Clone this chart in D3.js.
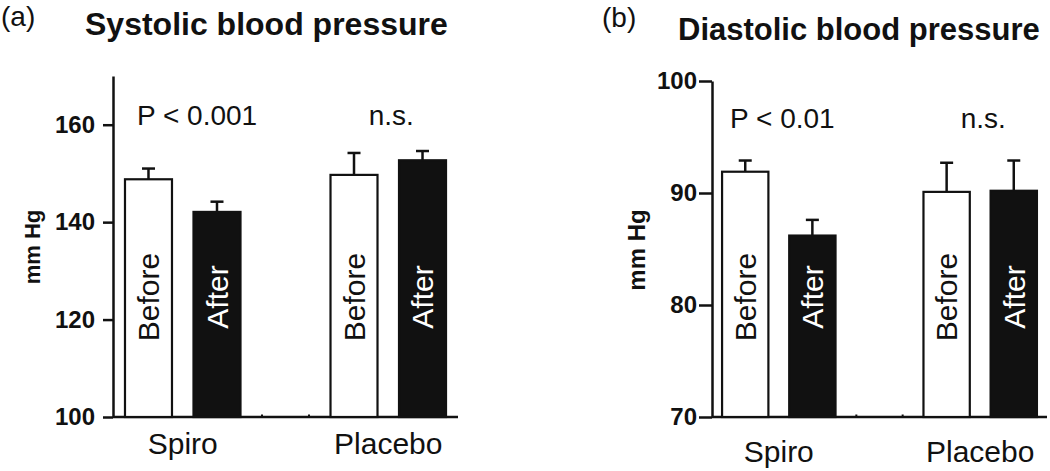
<!DOCTYPE html>
<html>
<head>
<meta charset="utf-8">
<script src="https://cdn.jsdelivr.net/npm/d3@7"></script>
<style>
  html, body { margin: 0; padding: 0; background: #fff; }
  svg { display: block; font-family: "Liberation Sans", Arial, sans-serif; }
</style>
</head>
<body>
<svg id="chart" width="1050" height="471"></svg>
<script>
// ---- Data ----
const groups = ["Spiro", "Placebo"];
const conditions = ["Before", "After"];
const slots = ["Spiro|Before", "Spiro|After", "gap", "Placebo|Before", "Placebo|After"];

const sysMeans = [148.8, 142.1, 149.7, 152.7];
const sysSE    = [2.2, 2.1, 4.5, 1.9];
const diaMeans = [91.9, 86.2, 90.1, 90.2];
const diaSE    = [1.0, 1.4, 2.6, 2.7];

const sysTicks = [100, 120, 140, 160];
const diaTicks = [70, 80, 90, 100];

const sysPLabels = ["P < 0.001", "n.s."];
const diaPLabels = ["P < 0.01", "n.s."];

const panelLetters = ["(a)", "(b)"];
const panelTitles = ["Systolic blood pressure", "Diastolic blood pressure"];
const yLabel = "mm Hg";

// ---- Drawing ----
const svg = d3.select("#chart");

function buildRows(means, se) {
  const rows = [];
  let k = 0;
  groups.forEach(g => conditions.forEach(c => {
    rows.push({ slot: g + "|" + c, group: g, cond: c, mean: means[k], se: se[k] });
    k++;
  }));
  return rows;
}

function drawPanel(cfg) {
  const g = svg.append("g");
  const y = d3.scaleLinear().domain(cfg.domain).range([cfg.bottom, cfg.top]);
  const x = d3.scaleBand().domain(slots).range([cfg.left, cfg.right])
    .paddingInner(cfg.padIn).paddingOuter(cfg.padOut);
  const rows = buildRows(cfg.means, cfg.se);

  // y axis
  const yAxis = d3.axisLeft(y).tickValues(cfg.ticks).tickSize(cfg.tickLen)
    .tickPadding(cfg.tickPad).tickSizeOuter(0);
  const ya = g.append("g").attr("transform", `translate(${cfg.left},0)`).call(yAxis);
  ya.select(".domain").attr("stroke", "#111").attr("stroke-width", 2.5);
  ya.selectAll(".tick line").attr("stroke", "#111").attr("stroke-width", 2.5);
  ya.selectAll(".tick text").attr("fill", "#111").attr("font-size", 24)
    .attr("font-weight", "bold").attr("font-family", "Liberation Sans, Arial, sans-serif");

  // x axis baseline
  g.append("line")
    .attr("x1", cfg.left).attr("x2", cfg.right)
    .attr("y1", y(cfg.domain[0])).attr("y2", y(cfg.domain[0]))
    .attr("stroke", "#111").attr("stroke-width", 2.5);

  // empty slot remnants (zero-height bar corners)
  [x("gap"), x("gap") + x.bandwidth()].forEach(px => {
    g.append("line").attr("x1", px).attr("x2", px)
      .attr("y1", y(cfg.domain[0]) - 2.5).attr("y2", y(cfg.domain[0]))
      .attr("stroke", "#111").attr("stroke-width", 2);
  });

  // error bars (upper only)
  const cap = 13;
  rows.forEach(d => {
    const cx = x(d.slot) + x.bandwidth() / 2;
    g.append("line").attr("x1", cx).attr("x2", cx)
      .attr("y1", y(d.mean)).attr("y2", y(d.mean + d.se))
      .attr("stroke", "#111").attr("stroke-width", 2.5);
    g.append("line").attr("x1", cx - cap / 2).attr("x2", cx + cap / 2)
      .attr("y1", y(d.mean + d.se)).attr("y2", y(d.mean + d.se))
      .attr("stroke", "#111").attr("stroke-width", 2.5);
  });

  // bars
  g.selectAll("rect.bar").data(rows).enter().append("rect")
    .attr("class", "bar")
    .attr("x", d => x(d.slot))
    .attr("width", x.bandwidth())
    .attr("y", d => y(d.mean))
    .attr("height", d => y(cfg.domain[0]) - y(d.mean))
    .attr("fill", d => d.cond === "Before" ? "#fff" : "#111")
    .attr("stroke", "#111").attr("stroke-width", 2.2);

  // bar labels (rotated)
  rows.forEach(d => {
    const cx = x(d.slot) + x.bandwidth() / 2;
    g.append("text")
      .attr("transform", `translate(${cx},${cfg.barLabelY}) rotate(-90)`)
      .attr("text-anchor", "middle").attr("dy", "0.36em")
      .attr("font-size", 30)
      .attr("fill", d.cond === "Before" ? "#111" : "#fff")
      .text(d.cond);
  });

  // category labels
  groups.forEach(grp => {
    const a = x(grp + "|Before"), b = x(grp + "|After") + x.bandwidth();
    g.append("text").attr("x", (a + b) / 2).attr("y", cfg.catY)
      .attr("text-anchor", "middle").attr("font-size", 30).attr("fill", "#111")
      .text(grp);
  });

  // significance labels
  g.append("text").attr("x", x("Spiro|Before") + cfg.pDx).attr("y", cfg.pY)
    .attr("font-size", 28).attr("fill", "#111").text(cfg.pLabels[0]);
  g.append("text")
    .attr("x", (x("Placebo|Before") + x("Placebo|After") + x.bandwidth()) / 2 + 3)
    .attr("y", cfg.pY).attr("text-anchor", "middle")
    .attr("font-size", 28).attr("fill", "#111").text(cfg.pLabels[1]);

  // y label
  g.append("text")
    .attr("transform", `translate(${cfg.yLabX},${cfg.yLabY}) rotate(-90)`)
    .attr("text-anchor", "middle").attr("dy", "0.36em")
    .attr("font-size", cfg.yLabSize).attr("font-weight", "bold").attr("fill", "#111")
    .text(yLabel);

  // panel letter and title
  g.append("text").attr("x", cfg.letterX).attr("y", cfg.letterY)
    .attr("font-size", 28).attr("fill", "#111").text(cfg.letter);
  g.append("text").attr("x", cfg.titleX).attr("y", cfg.titleY)
    .attr("font-size", cfg.titleSize).attr("font-weight", "bold").attr("fill", "#111")
    .text(cfg.title);
}

drawPanel({
  domain: [100, 170], top: 76, bottom: 417, left: 113, right: 458,
  padIn: 0.314, padOut: 0.175, ticks: sysTicks, tickLen: 10, tickPad: 8,
  means: sysMeans, se: sysSE, barLabelY: 297, catY: 454,
  pLabels: sysPLabels, pY: 125, pDx: 12,
  yLabX: 32, yLabY: 247, yLabSize: 22,
  letter: panelLetters[0], letterX: 1, letterY: 26,
  title: panelTitles[0], titleX: 85, titleY: 35, titleSize: 32
});

drawPanel({
  domain: [70, 100], top: 81, bottom: 417, left: 712, right: 1047,
  padIn: 0.31, padOut: 0.15, ticks: diaTicks, tickLen: 13, tickPad: 2,
  means: diaMeans, se: diaSE, barLabelY: 297, catY: 462,
  pLabels: diaPLabels, pY: 128, pDx: 8,
  yLabX: 636, yLabY: 250, yLabSize: 24,
  letter: panelLetters[1], letterX: 602, letterY: 27,
  title: panelTitles[1], titleX: 678, titleY: 40, titleSize: 31
});
</script>
</body>
</html>
